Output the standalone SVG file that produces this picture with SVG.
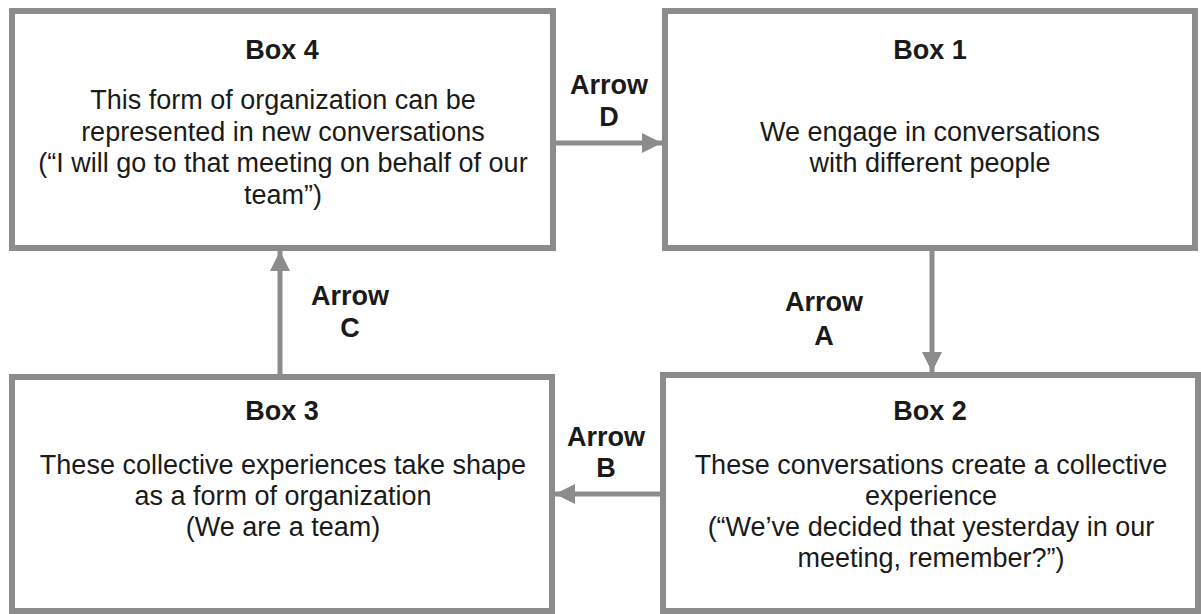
<svg xmlns="http://www.w3.org/2000/svg" width="1201" height="614" viewBox="0 0 1201 614">
  <style>
    .box { fill: #ffffff; stroke: #8c8c8c; stroke-width: 6; }
    .conn { stroke: #8c8c8c; stroke-width: 5; fill: none; }
    text { font-family: "Liberation Sans", Arial, sans-serif; font-size: 27px; fill: #1a1a1a; text-anchor: middle; }
    .title { font-weight: bold; }
  </style>
  <defs>
    <marker id="head" viewBox="0 0 10 10" refX="10" refY="5" markerWidth="4" markerHeight="4" orient="auto" markerUnits="strokeWidth">
      <path d="M0,0 L10,5 L0,10 Z" fill="#8c8c8c"/>
    </marker>
  </defs>
  <rect width="1201" height="614" fill="#ffffff"/>

  <g id="connectors">
    <line class="conn" x1="556" y1="143" x2="662" y2="143" marker-end="url(#head)"/>
    <line class="conn" x1="932" y1="251" x2="932" y2="372" marker-end="url(#head)"/>
    <line class="conn" x1="660" y1="494" x2="555" y2="494" marker-end="url(#head)"/>
    <line class="conn" x1="280" y1="374" x2="280" y2="251" marker-end="url(#head)"/>
    <text class="title" x="609" y="94">Arrow</text>
    <text class="title" x="609" y="126">D</text>
    <text class="title" x="824" y="311">Arrow</text>
    <text class="title" x="824" y="345">A</text>
    <text class="title" x="606" y="446">Arrow</text>
    <text class="title" x="606" y="477">B</text>
    <text class="title" x="350" y="305">Arrow</text>
    <text class="title" x="350" y="337">C</text>
  </g>

  <g id="box4">
    <rect class="box" x="12" y="11" width="541" height="237"/>
    <text class="title" x="282" y="59">Box 4</text>
    <text x="283" y="109">This form of organization can be</text>
    <text x="283" y="141">represented in new conversations</text>
    <text x="283" y="172">(“I will go to that meeting on behalf of our</text>
    <text x="283" y="204">team”)</text>
  </g>

  <g id="box1">
    <rect class="box" x="665" y="11" width="530" height="237"/>
    <text class="title" x="930" y="59">Box 1</text>
    <text x="930" y="141">We engage in conversations</text>
    <text x="930" y="172">with different people</text>
  </g>

  <g id="box2">
    <rect class="box" x="663" y="375" width="535" height="236"/>
    <text class="title" x="930" y="420">Box 2</text>
    <text x="931" y="474">These conversations create a collective</text>
    <text x="931" y="505">experience</text>
    <text x="931" y="536">(“We’ve decided that yesterday in our</text>
    <text x="931" y="567">meeting, remember?”)</text>
  </g>

  <g id="box3">
    <rect class="box" x="12" y="377" width="540" height="234"/>
    <text class="title" x="282" y="420">Box 3</text>
    <text x="283" y="474">These collective experiences take shape</text>
    <text x="283" y="505">as a form of organization</text>
    <text x="283" y="536">(We are a team)</text>
  </g>
</svg>
